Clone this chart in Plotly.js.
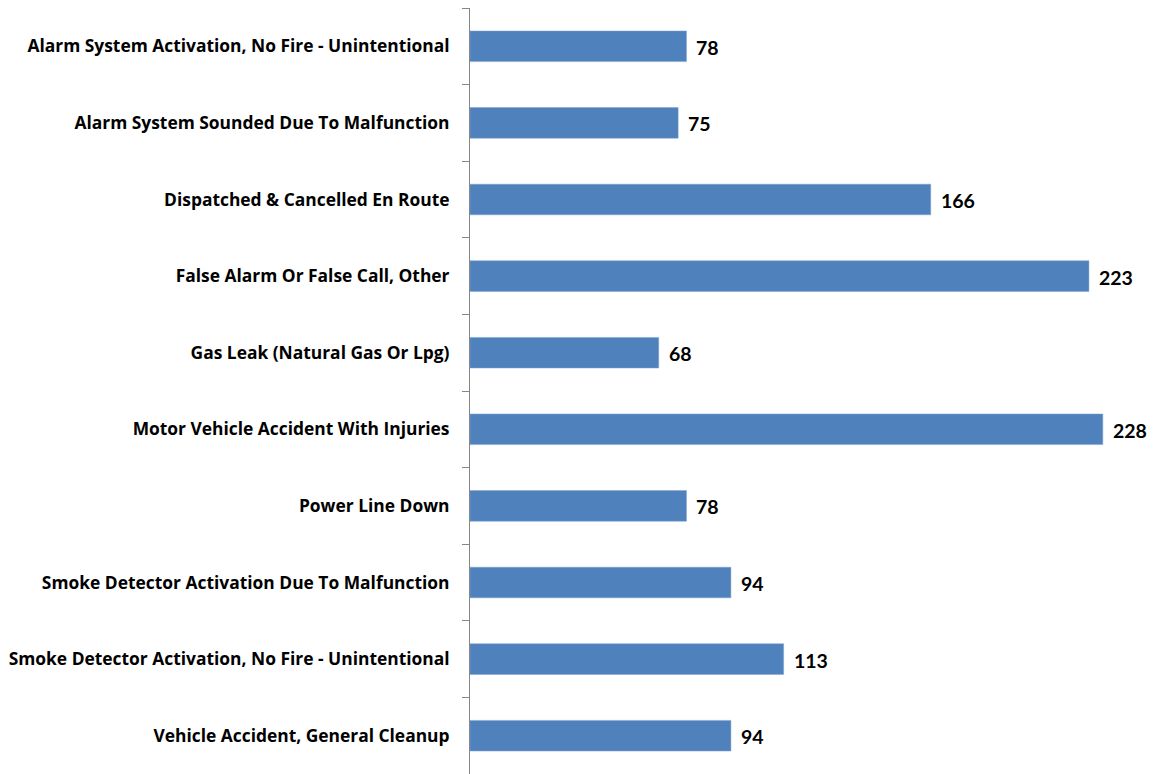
<!DOCTYPE html>
<html><head><meta charset="utf-8">
<script src="https://cdn.plot.ly/plotly-3.0.1.min.js"></script>
<style>body{margin:0;padding:0;background:#fff}#chart{width:1156px;height:774px}</style>
</head><body><div id="chart"></div>
<script>
const categories = [
  "Alarm System Activation, No Fire - Unintentional",
  "Alarm System Sounded Due To Malfunction",
  "Dispatched & Cancelled En Route",
  "False Alarm Or False Call, Other",
  "Gas Leak (Natural Gas Or Lpg)",
  "Motor Vehicle Accident With Injuries",
  "Power Line Down",
  "Smoke Detector Activation Due To Malfunction",
  "Smoke Detector Activation, No Fire - Unintentional",
  "Vehicle Accident, General Cleanup"
];
const counts = [78, 75, 166, 223, 68, 228, 78, 94, 113, 94];

const trace = {
  type: 'bar',
  orientation: 'h',
  y: categories,
  x: counts,
  marker: {color: '#4F81BD', line: {color: '#7FA3D0', width: 0.5}},
  hoverinfo: 'none'
};

const annotations = categories.map((c, i) => ({
  x: counts[i], y: c, xref: 'x', yref: 'y',
  text: String(counts[i]), showarrow: false,
  xanchor: 'left', yanchor: 'middle', xshift: 8, yshift: -1,
  font: {family: 'Lato, sans-serif', size: 19.5, color: '#000', weight: 'bold'}
}));

const layout = {
  width: 1156, height: 774,
  margin: {l: 470, r: 6, t: 8, b: 0, pad: 0},
  paper_bgcolor: '#fff', plot_bgcolor: '#fff',
  showlegend: false,
  bargap: 0.6,
  font: {family: 'Lato, sans-serif'},
  annotations: annotations,
  xaxis: {range: [0, 245], visible: false, showgrid: false, zeroline: false, fixedrange: true},
  yaxis: {
    autorange: 'reversed',
    type: 'category',
    showline: true, linecolor: '#868686', linewidth: 1,
    ticks: 'outside', tickson: 'boundaries', ticklen: 7, tickcolor: '#868686', tickwidth: 1,
    showgrid: false, zeroline: false,
    ticklabelstandoff: 16,
    tickfont: {family: '"Open Sans", sans-serif', size: 17.4, color: '#000', weight: 'bold'}
  }
};

Plotly.newPlot('chart', [trace], layout, {displayModeBar: false, staticPlot: true});
</script></body></html>
